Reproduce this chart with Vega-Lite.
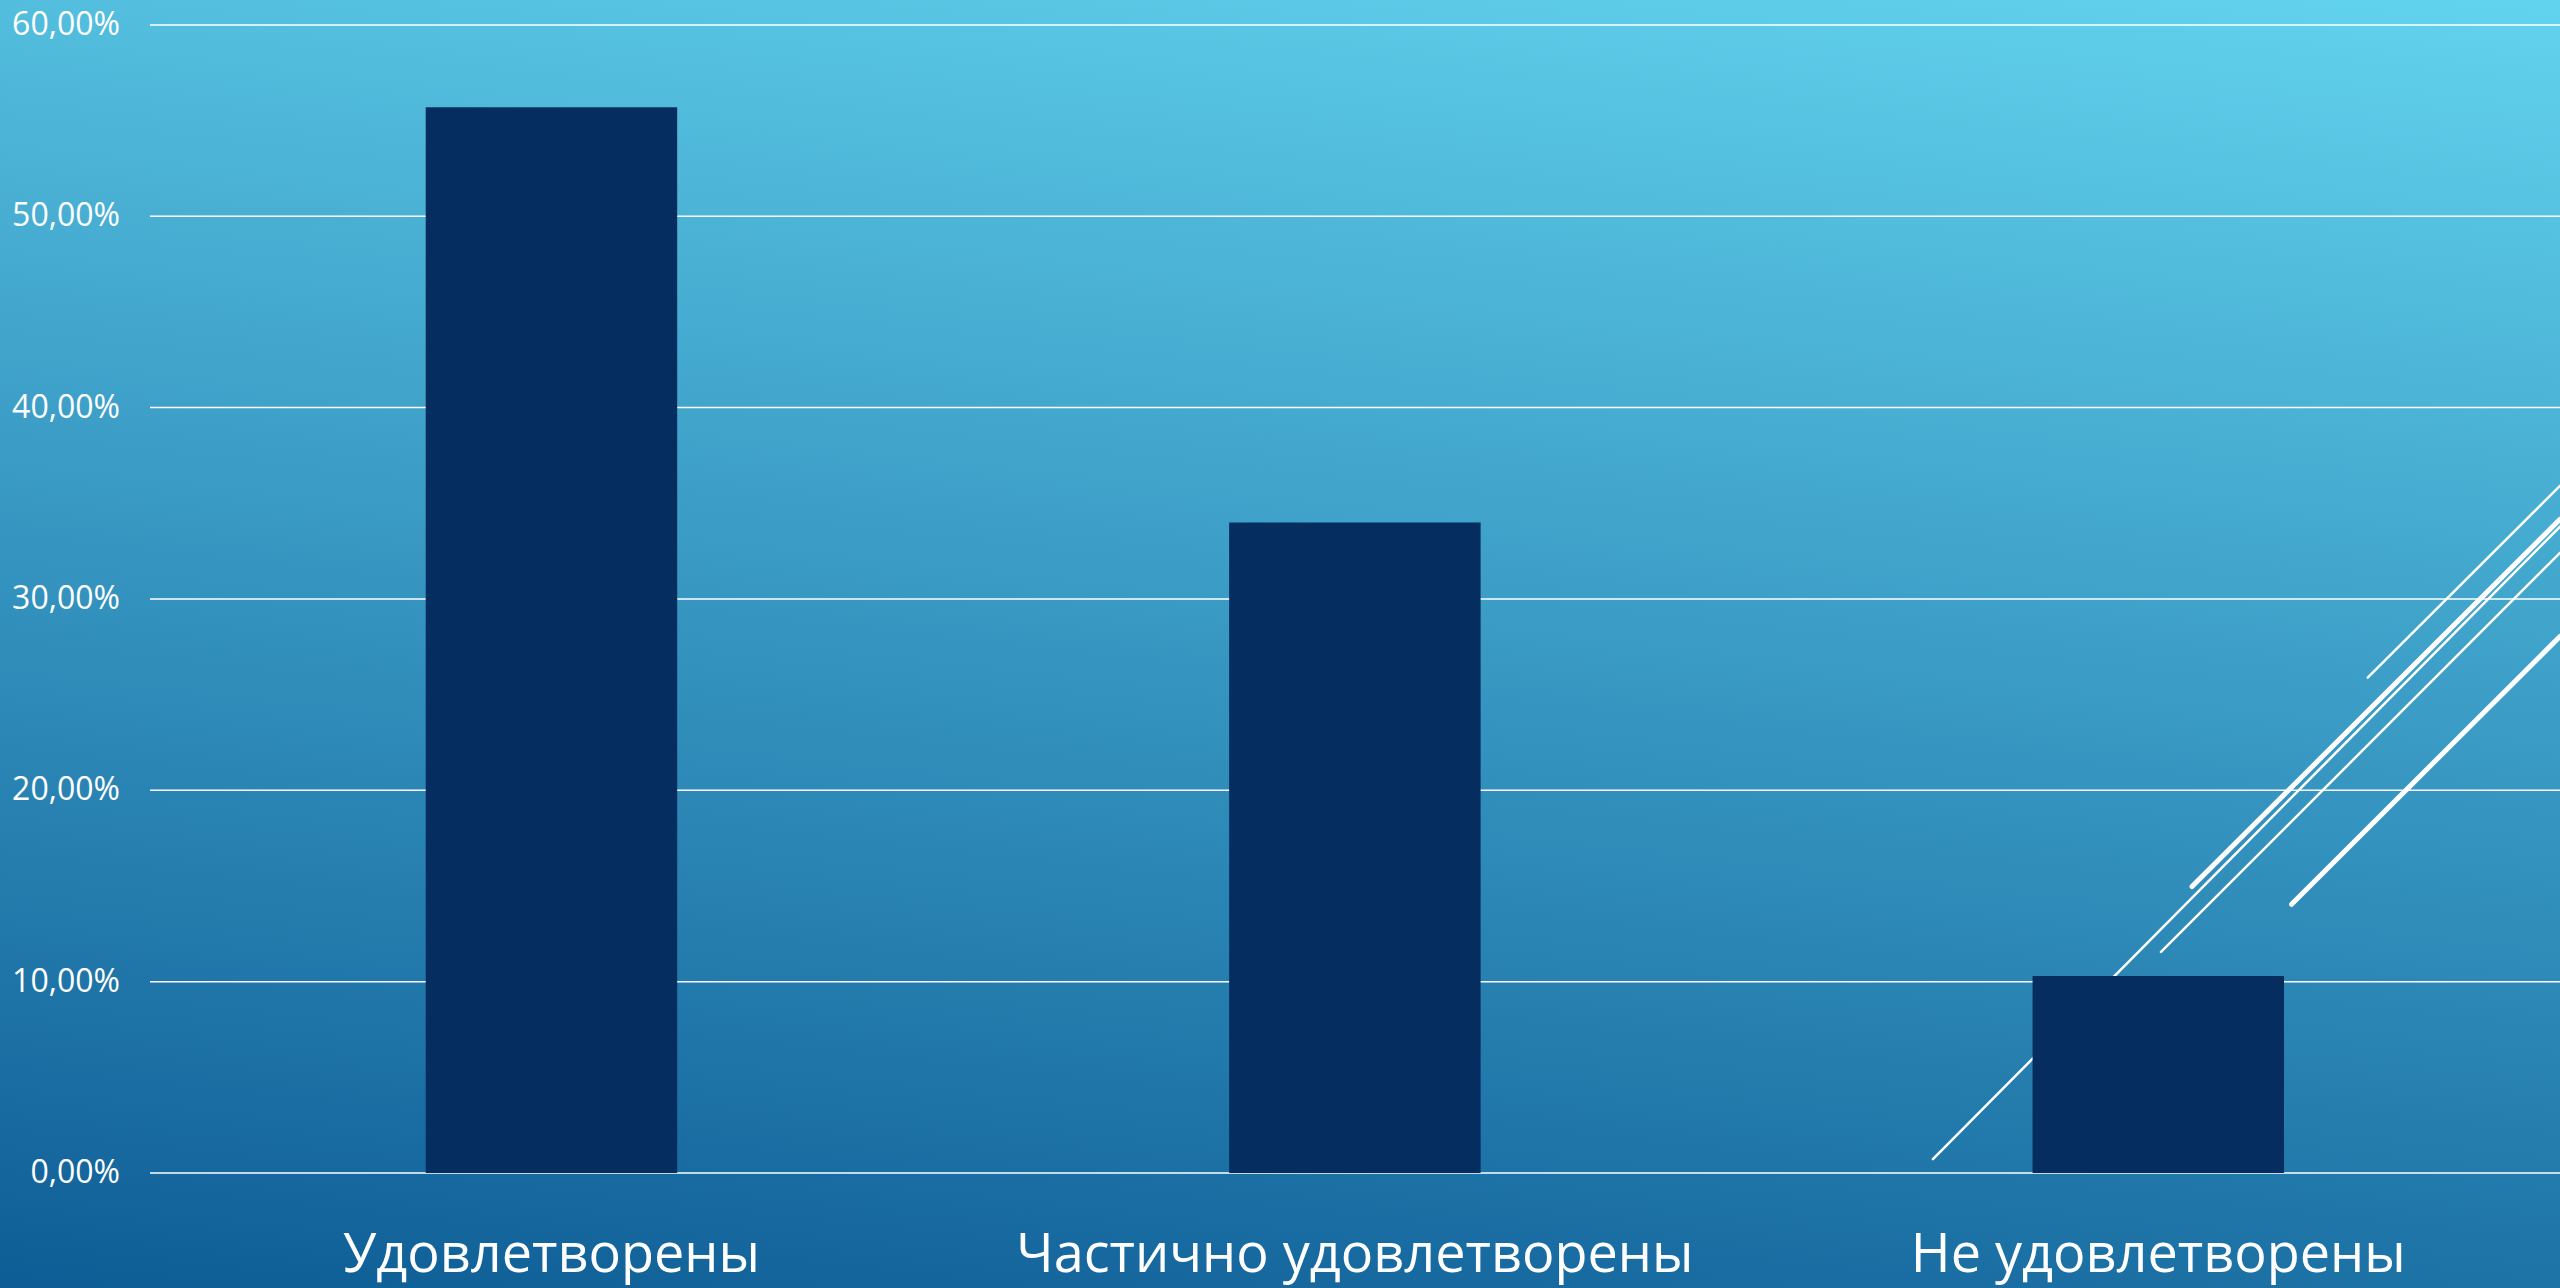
{
  "$schema": "https://vega.github.io/schema/vega-lite/v6.json",
  "width": 2560,
  "height": 1288,
  "autosize": "none",
  "padding": 0,
  "background": "#2a86b6",
  "config": {
    "view": {"stroke": null},
    "font": "Open Sans",
    "locale": {"number": {"decimal": ",", "thousands": " ", "grouping": [3], "currency": ["", ""], "percent": "%"}}
  },
  "datasets": {
    "bars": [
      {"cat": "Удовлетворены", "pct": 0.557},
      {"cat": "Частично удовлетворены", "pct": 0.340},
      {"cat": "Не удовлетворены", "pct": 0.103}
    ],
    "grid": [{"v": 0}, {"v": 0.1}, {"v": 0.2}, {"v": 0.3}, {"v": 0.4}, {"v": 0.5}, {"v": 0.6}],
    "thin": [
      {"x1": 2.7606, "y1": 0.2589, "x2": 3.0, "y2": 0.3591},
      {"x1": 2.2194, "y1": 0.0072, "x2": 3.0, "y2": 0.3378},
      {"x1": 2.5033, "y1": 0.1155, "x2": 3.0, "y2": 0.3241}
    ],
    "thick": [
      {"x1": 2.5419, "y1": 0.1497, "x2": 3.0, "y2": 0.3416},
      {"x1": 2.6659, "y1": 0.1404, "x2": 3.0, "y2": 0.2804}
    ]
  },
  "layer": [
    {
      "data": {"values": [{"bg": 1}]},
      "mark": {
        "type": "rect",
        "fill": {
          "gradient": "linear",
          "x1": 0, "y1": 1, "x2": 0.255, "y2": -0.163,
          "stops": [
            {"offset": 0, "color": "#0E5D96"},
            {"offset": 1, "color": "#62D3EE"}
          ]
        }
      },
      "encoding": {
        "x": {"value": 0},
        "x2": {"value": "width"},
        "y": {"value": 0},
        "y2": {"value": "height"}
      }
    },
    {
      "layer": [
        {
          "data": {"name": "grid"},
          "mark": {"type": "rule", "color": "#FFFFFF", "strokeWidth": 1.5},
          "encoding": {
            "y": {"field": "v", "type": "quantitative", "scale": {"domain": [-0.0601, 0.613], "nice": false, "zero": false}, "axis": null},
            "x": {"datum": 0, "type": "quantitative", "scale": {"domain": [-0.18672, 3], "nice": false, "zero": false}, "axis": null},
            "x2": {"datum": 3}
          }
        },
        {
          "data": {"name": "grid"},
          "mark": {"type": "text", "color": "#FFFFFF", "font": "Open Sans", "fontSize": 32, "align": "right", "baseline": "middle"},
          "encoding": {
            "y": {"field": "v", "type": "quantitative", "scale": {"domain": [-0.0601, 0.613], "nice": false, "zero": false}, "axis": null},
            "x": {"datum": -0.0373, "type": "quantitative", "scale": {"domain": [-0.18672, 3], "nice": false, "zero": false}, "axis": null},
            "text": {"field": "v", "type": "quantitative", "format": ".2%"}
          }
        },
        {
          "data": {"name": "thin"},
          "mark": {"type": "rule", "color": "#FFFFFF", "strokeWidth": 2.5, "strokeCap": "round"},
          "encoding": {
            "x": {"field": "x1", "type": "quantitative", "scale": {"domain": [-0.18672, 3], "nice": false, "zero": false}, "axis": null},
            "x2": {"field": "x2"},
            "y": {"field": "y1", "type": "quantitative", "scale": {"domain": [-0.0601, 0.613], "nice": false, "zero": false}, "axis": null},
            "y2": {"field": "y2"}
          }
        },
        {
          "data": {"name": "thick"},
          "mark": {"type": "rule", "color": "#FFFFFF", "strokeWidth": 5, "strokeCap": "round"},
          "encoding": {
            "x": {"field": "x1", "type": "quantitative", "scale": {"domain": [-0.18672, 3], "nice": false, "zero": false}, "axis": null},
            "x2": {"field": "x2"},
            "y": {"field": "y1", "type": "quantitative", "scale": {"domain": [-0.0601, 0.613], "nice": false, "zero": false}, "axis": null},
            "y2": {"field": "y2"}
          }
        }
      ]
    },
    {
      "data": {"name": "bars"},
      "mark": {"type": "bar", "color": "#062D5F"},
      "encoding": {
        "x": {
          "field": "cat", "type": "nominal", "sort": null,
          "scale": {"paddingInner": 0.687, "paddingOuter": 0.4367, "align": 0.6067},
          "axis": {
            "title": null, "labelAngle": 0, "domain": false, "ticks": false, "tickSize": 0, "grid": false,
            "labelFont": "Open Sans", "labelFontSize": 54, "labelColor": "#FFFFFF",
            "labelBaseline": "alphabetic", "labelPadding": -17, "labelLimit": 0, "zindex": 2
          }
        },
        "y": {
          "field": "pct", "type": "quantitative", "stack": null,
          "scale": {"domain": [-0.0601, 0.613], "nice": false, "zero": false},
          "axis": null
        },
        "y2": {"datum": 0}
      }
    }
  ],
  "resolve": {"scale": {"x": "independent"}}
}
